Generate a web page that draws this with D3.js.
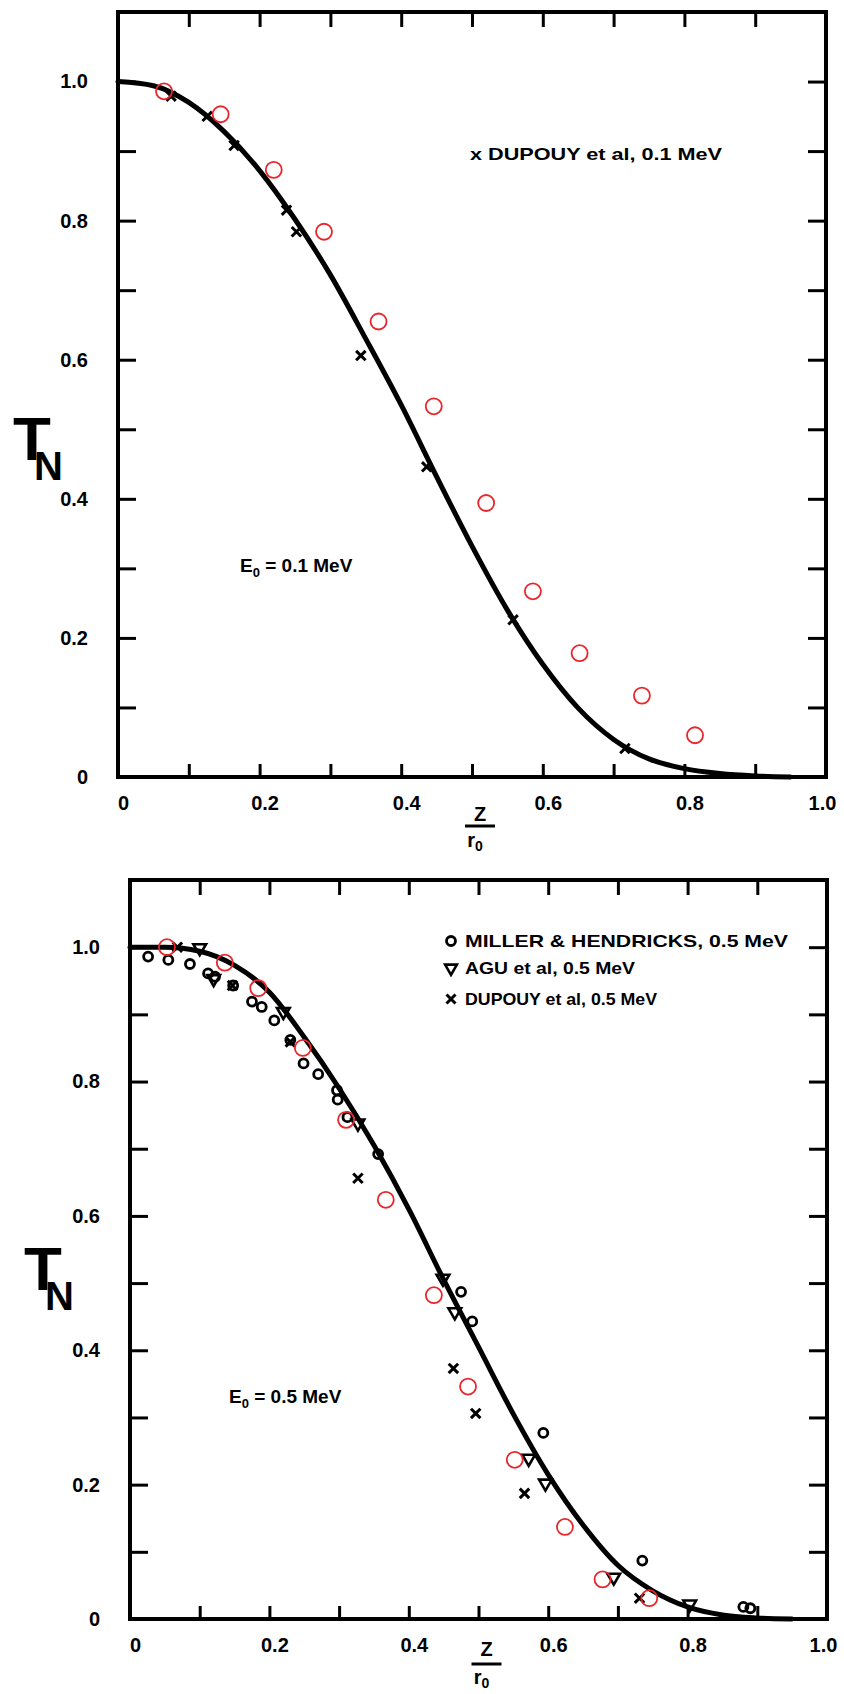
<!DOCTYPE html>
<html><head><meta charset="utf-8">
<script src="https://cdn.jsdelivr.net/npm/d3@7"></script>
<style>
body{margin:0;background:#fff}
svg{display:block}
text{font-family:"Liberation Sans",Arial,sans-serif;font-weight:bold;fill:#000}
</style>
</head><body>
<svg id="c" width="844" height="1694"></svg>
<script>
// ---------- data ----------
const xTickValues = [0,0.1,0.2,0.3,0.4,0.5,0.6,0.7,0.8,0.9,1.0];
const yTickValues = [0,0.1,0.2,0.3,0.4,0.5,0.6,0.7,0.8,0.9,1.0];
const xTickLabels = ["0","0.2","0.4","0.6","0.8","1.0"];
const yTickLabels = ["0","0.2","0.4","0.6","0.8","1.0"];

// Top panel (E0 = 0.1 MeV)
const curveTopZ = [0,0.05,0.1,0.15,0.2,0.25,0.3,0.35,0.4,0.45,0.5,0.55,0.6,0.65,0.7,0.75,0.8,0.85,0.9,0.95];
const curveTopT = [1.0,0.994,0.970,0.928,0.872,0.802,0.722,0.630,0.535,0.432,0.332,0.240,0.162,0.099,0.054,0.026,0.012,0.005,0.0015,0.0];
const redTopZ = [0.065,0.145,0.220,0.291,0.368,0.446,0.520,0.586,0.652,0.740,0.815];
const redTopT = [0.986,0.953,0.873,0.784,0.655,0.533,0.394,0.267,0.178,0.117,0.060];
const dupTopZ = [0.075,0.126,0.164,0.238,0.252,0.343,0.436,0.558,0.716];
const dupTopT = [0.979,0.950,0.908,0.815,0.784,0.606,0.446,0.226,0.041];

// Bottom panel (E0 = 0.5 MeV)
const curveBotZ = [0,0.05,0.1,0.15,0.2,0.25,0.3,0.35,0.4,0.45,0.5,0.55,0.6,0.65,0.7,0.75,0.8,0.85,0.9,0.95];
const curveBotT = [1.0,1.0,0.994,0.973,0.933,0.866,0.790,0.705,0.610,0.505,0.405,0.305,0.215,0.140,0.080,0.042,0.018,0.006,0.0015,0.0];
const redBotZ = [0.053,0.136,0.184,0.248,0.310,0.367,0.436,0.485,0.552,0.624,0.678,0.745];
const redBotT = [1.00,0.977,0.939,0.850,0.743,0.624,0.482,0.346,0.237,0.137,0.059,0.031];
const millerZ = [0.026,0.055,0.086,0.112,0.122,0.148,0.175,0.189,0.207,0.230,0.249,0.270,0.297,0.298,0.312,0.356,0.475,0.491,0.593,0.735,0.880,0.890];
const millerT = [0.986,0.981,0.975,0.961,0.956,0.943,0.919,0.911,0.891,0.862,0.827,0.811,0.787,0.773,0.747,0.692,0.487,0.443,0.277,0.087,0.018,0.016];
const aguZ = [0.100,0.120,0.220,0.327,0.449,0.466,0.572,0.596,0.694,0.803];
const aguT = [0.999,0.953,0.904,0.738,0.507,0.457,0.239,0.202,0.062,0.022];
const dupBotZ = [0.068,0.147,0.230,0.327,0.464,0.496,0.566,0.731];
const dupBotT = [1.000,0.943,0.859,0.656,0.373,0.306,0.187,0.031];

const legendTop = ["x DUPOUY et al, 0.1 MeV"];
const legendBot = ["MILLER & HENDRICKS, 0.5 MeV","AGU et al, 0.5 MeV","DUPOUY et al, 0.5 MeV"];

// ---------- drawing ----------
const svg = d3.select("#c");
svg.append("rect").attr("width",844).attr("height",1694).attr("fill","#fff");

function panel(cfg){
  const x = d3.scaleLinear().domain([0,1]).range([cfg.left,cfg.right]);
  const y = d3.scaleLinear().domain([0,1.1]).range([cfg.bottom,cfg.top]);
  const g = svg.append("g");
  const fmtX = d => { const i = Math.round(d*10); return i%2===0 ? xTickLabels[i/2] : ""; };
  const fmtY = d => { const i = Math.round(d*10); return i%2===0 ? yTickLabels[i/2] : ""; };

  const ax = g.append("g").attr("transform",`translate(0,${cfg.bottom})`)
    .call(d3.axisBottom(x).tickValues(xTickValues).tickSize(-13).tickPadding(27).tickFormat(fmtX));
  const axT = g.append("g").attr("transform",`translate(0,${cfg.top})`)
    .call(d3.axisTop(x).tickValues(xTickValues.slice(1,10)).tickSize(-15).tickFormat(""));
  const ay = g.append("g").attr("transform",`translate(${cfg.left},0)`)
    .call(d3.axisLeft(y).tickValues(yTickValues).tickSize(-18).tickPadding(30).tickFormat(fmtY));
  const ayR = g.append("g").attr("transform",`translate(${cfg.right},0)`)
    .call(d3.axisRight(y).tickValues(yTickValues).tickSize(-18).tickFormat(""));
  [ax,axT,ay,ayR].forEach(a=>{
    a.select(".domain").remove();
    a.selectAll(".tick line").attr("stroke","#000").attr("stroke-width",3);
    a.selectAll("text").attr("font-size",20).attr("fill","#000")
      .style("font-family","'Liberation Sans',Arial,sans-serif").style("font-weight","bold");
  });
  ax.selectAll("text").attr("dy","0.3em").attr("dx",d=> d>=0.99 ? -4 : 5);
  // frame
  g.append("rect").attr("x",cfg.left).attr("y",cfg.top)
    .attr("width",cfg.right-cfg.left).attr("height",cfg.bottom-cfg.top)
    .attr("fill","none").attr("stroke","#000").attr("stroke-width",4);

  // curve
  const line = d3.line().x(d=>x(d[0])).y(d=>y(d[1])).curve(d3.curveMonotoneX);
  g.append("path").datum(cfg.cz.map((z,i)=>[z,cfg.ct[i]]))
    .attr("d",line).attr("fill","none").attr("stroke","#000").attr("stroke-width",5)
    .attr("stroke-linecap","round");

  const sym = d3.symbol();
  if(cfg.mz){
    g.selectAll(".mil").data(cfg.mz.map((z,i)=>[z,cfg.mt[i]])).join("circle")
      .attr("cx",d=>x(d[0])).attr("cy",d=>y(d[1])).attr("r",4.5)
      .attr("fill","none").attr("stroke","#000").attr("stroke-width",2.8);
  }
  if(cfg.az){
    g.selectAll(".agu").data(cfg.az.map((z,i)=>[z,cfg.at[i]])).join("path")
      .attr("transform",d=>`translate(${x(d[0])},${y(d[1])}) rotate(180)`)
      .attr("d",sym.type(d3.symbolTriangle).size(70)())
      .attr("fill","none").attr("stroke","#000").attr("stroke-width",2.6);
  }
  g.selectAll(".dup").data(cfg.dz.map((z,i)=>[z,cfg.dt[i]])).join("path")
    .attr("transform",d=>`translate(${x(d[0])},${y(d[1])})`)
    .attr("d",sym.type(d3.symbolX).size(60)())
    .attr("fill","none").attr("stroke","#000").attr("stroke-width",3);
  g.selectAll(".red").data(cfg.rz.map((z,i)=>[z,cfg.rt[i]])).join("circle")
    .attr("cx",d=>x(d[0])).attr("cy",d=>y(d[1])).attr("r",8)
    .attr("fill","none").attr("stroke","#e8262b").attr("stroke-width",1.8);

  // y label T_N (one text element)
  const tn = g.append("text").attr("x",cfg.tnX).attr("y",cfg.tnY).attr("font-size",62);
  tn.append("tspan").text("T");
  tn.append("tspan").attr("dx",-17).attr("dy",20).attr("font-size",40).text("N");
  // x label Z / r0
  const zx = x(0.5)+8;
  g.append("text").attr("x",zx).attr("y",cfg.bottom+cfg.zOff[0]).attr("text-anchor","middle").attr("font-size",20).text("Z");
  g.append("line").attr("x1",zx-15).attr("x2",zx+15).attr("y1",cfg.bottom+cfg.zOff[1]).attr("y2",cfg.bottom+cfg.zOff[1])
    .attr("stroke","#000").attr("stroke-width",3);
  const r = g.append("text").attr("x",zx-5).attr("y",cfg.bottom+cfg.zOff[2]).attr("text-anchor","middle").attr("font-size",20);
  r.append("tspan").text("r");
  r.append("tspan").attr("dy",4).attr("font-size",14).text("0");
  // E0 label
  const e = g.append("text").attr("x",cfg.eX).attr("y",cfg.eY).attr("font-size",19);
  e.append("tspan").text("E");
  e.append("tspan").attr("dy",5).attr("font-size",13).text("0");
  e.append("tspan").attr("dy",-5).text(cfg.eText);
  return {x,y,g};
}

const P1 = panel({left:118,right:826,top:12,bottom:777,
  cz:curveTopZ,ct:curveTopT,rz:redTopZ,rt:redTopT,dz:dupTopZ,dt:dupTopT,
  tnX:13,tnY:460,eX:240,eY:572,eText:" = 0.1 MeV",zOff:[44,49,70]});
P1.g.append("text").attr("x",470).attr("y",160).attr("font-size",17)
  .attr("textLength",252).attr("lengthAdjust","spacingAndGlyphs").text(legendTop[0]);

const P2 = panel({left:130,right:827,top:880,bottom:1619,
  cz:curveBotZ,ct:curveBotT,rz:redBotZ,rt:redBotT,dz:dupBotZ,dt:dupBotT,
  mz:millerZ,mt:millerT,az:aguZ,at:aguT,
  tnX:24,tnY:1290,eX:229,eY:1403,eText:" = 0.5 MeV",zOff:[37,45,65]});
const lg = P2.g.append("g");
const ly = [941,968,999];
lg.append("circle").attr("cx",451).attr("cy",ly[0]).attr("r",4.5).attr("fill","none").attr("stroke","#000").attr("stroke-width",2.8);
lg.append("path").attr("transform",`translate(451,${ly[1]}) rotate(180)`)
  .attr("d",d3.symbol().type(d3.symbolTriangle).size(60)()).attr("fill","none").attr("stroke","#000").attr("stroke-width",2.6);
lg.append("path").attr("transform",`translate(451,${ly[2]})`)
  .attr("d",d3.symbol().type(d3.symbolX).size(55)()).attr("fill","none").attr("stroke","#000").attr("stroke-width",3);
const lw = [323,170,192];
legendBot.forEach((t,i)=>{
  lg.append("text").attr("x",465).attr("y",ly[i]+6).attr("font-size",17)
    .attr("textLength",lw[i]).attr("lengthAdjust","spacingAndGlyphs").text(t);
});
</script>
</body></html>
